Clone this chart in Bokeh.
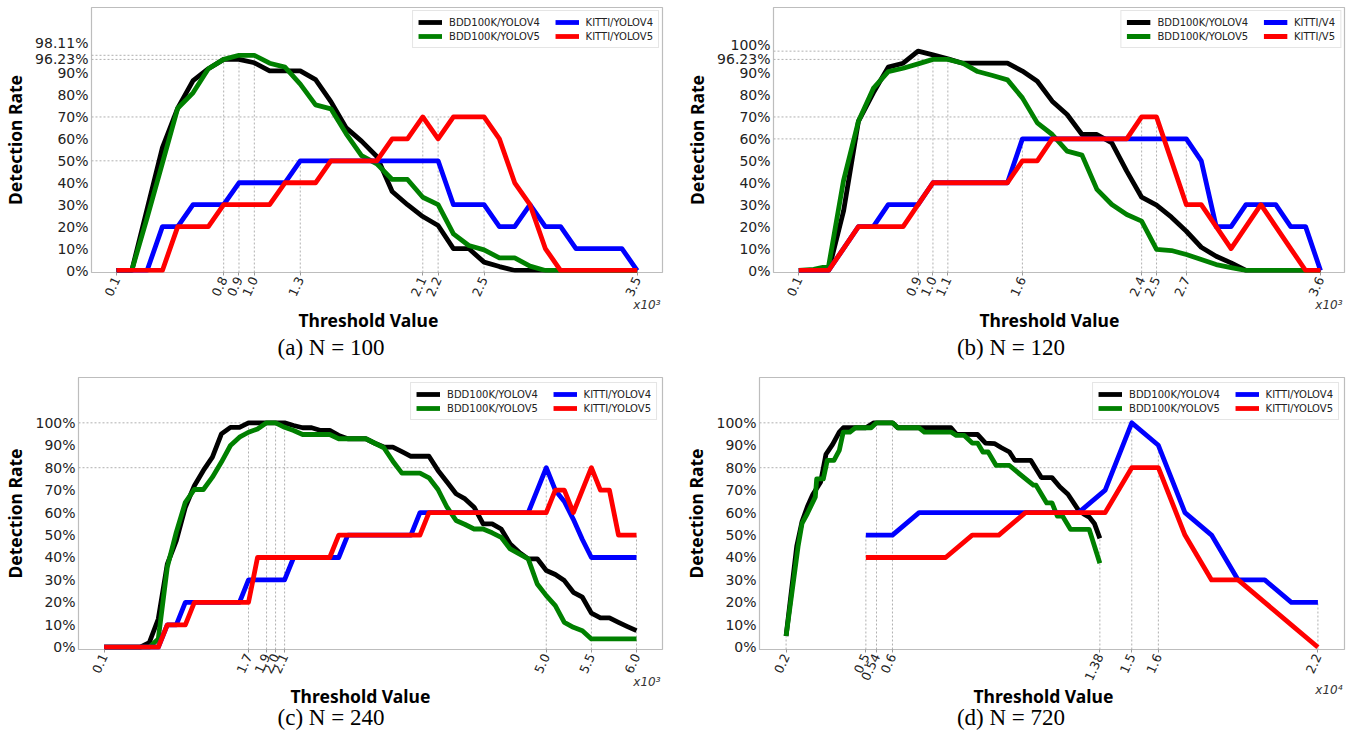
import math
from bokeh.plotting import figure
from bokeh.models import FixedTicker, Legend, LegendItem, Title, Range1d, Div
from bokeh.layouts import row, column
from bokeh.embed import file_html
from bokeh.resources import INLINE

# ---------------- data ----------------
series_names_ab = ["BDD100K/YOLOV4", "BDD100K/YOLOV5", "KITTI/YOLOV4", "KITTI/YOLOV5"]
series_names_b = ["BDD100K/YOLOV4", "BDD100K/YOLOV5", "KITTI/V4", "KITTI/V5"]
series_colors = ["#000000", "#008000", "#0000ff", "#ff0000"]

# (a) N = 100  (x in units of 10^3)
x_a = [0.1, 0.2, 0.3, 0.4, 0.5, 0.6, 0.7, 0.8, 0.9, 1.0, 1.1, 1.2, 1.3, 1.4, 1.5, 1.6, 1.7, 1.8,
       1.9, 2.0, 2.1, 2.2, 2.3, 2.4, 2.5, 2.6, 2.7, 2.8, 2.9, 3.0, 3.1, 3.2, 3.3, 3.4, 3.5]
black_a = [0, 0, 28, 56, 74, 86.6, 92, 96.23, 96.23, 94.7, 91, 91, 91, 87, 77, 65, 59, 52, 36, 30,
           24.6, 20.5, 10, 10, 3.8, 1.8, 0, 0, 0, 0, 0, 0, 0, 0, 0]
green_a = [0, 0, 24, 49, 74, 81, 92, 96.23, 98.11, 98.11, 94.5, 92.7, 85, 75.5, 73.7, 62.3, 52.4, 48.6,
           41.5, 41.5, 33.4, 30, 16.7, 11.4, 9.4, 5.8, 5.8, 2, 0, 0, 0, 0, 0, 0, 0]
blue_a = [0, 0, 0, 20, 20, 30, 30, 30, 40, 40, 40, 40, 50, 50, 50, 50, 50, 50, 50, 50,
          50, 50, 30, 30, 30, 20, 20, 30, 20, 20, 10, 10, 10, 10, 0]
red_a = [0, 0, 0, 0, 20, 20, 20, 30, 30, 30, 30, 40, 40, 40, 50, 50, 50, 50, 60, 60,
         70, 60, 70, 70, 70, 60, 40, 30, 10, 0, 0, 0, 0, 0, 0]
xticks_a = [0.1, 0.8, 0.9, 1.0, 1.3, 2.1, 2.2, 2.5, 3.5]
xlabels_a = ["0.1", "0.8", "0.9", "1.0", "1.3", "2.1", "2.2", "2.5", "3.5"]
yticks_a = [0, 10, 20, 30, 40, 50, 60, 70, 80, 90, 96.23, 103.6]
ylabels_a = ["0%", "10%", "20%", "30%", "40%", "50%", "60%", "70%", "80%", "90%", "96.23%", "98.11%"]
hguide_y_a = [98.11, 96.23, 70, 50]
hguide_x_a = [1.0, 0.9, 2.5, 2.2]
vguide_x_a = [0.8, 0.9, 1.0, 1.3, 2.1, 2.2, 2.5]
vguide_y_a = [96.23, 98.11, 98.11, 50, 70, 70, 70]

# (b) N = 120
x_b = [0.1, 0.2, 0.3, 0.4, 0.5, 0.6, 0.7, 0.8, 0.9, 1.0, 1.1, 1.2, 1.3, 1.4, 1.5, 1.6, 1.7, 1.8,
       1.9, 2.0, 2.1, 2.2, 2.3, 2.4, 2.5, 2.6, 2.7, 2.8, 2.9, 3.0, 3.1, 3.2, 3.3, 3.4, 3.5, 3.6]
black_b = [0, 0, 0, 27, 68, 81, 92.7, 94.5, 100, 98.3, 96.5, 94.5, 94.5, 94.5, 94.5, 90.9, 86.3, 77.2,
           71.1, 62, 62, 58.2, 45.3, 33.4, 29.8, 24.3, 17.9, 10.6, 6.5, 3.5, 0, 0, 0, 0, 0, 0]
green_b = [0, 0.5, 2, 41, 68, 83, 90.7, 92.2, 94.2, 96.23, 96.23, 94.5, 90.7, 88.9, 86.9, 78.7, 67.3, 62,
           54.4, 52.6, 37, 30.1, 25.5, 22.5, 9.6, 9.1, 7.3, 5, 2.7, 1.3, 0, 0, 0, 0, 0, 0]
blue_b = [0, 0, 0, 10, 20, 20, 30, 30, 30, 40, 40, 40, 40, 40, 40, 60, 60, 60,
          60, 60, 60, 60, 60, 60, 60, 60, 60, 50, 20, 20, 30, 30, 30, 20, 20, 0]
red_b = [0, 0, 0, 10, 20, 20, 20, 20, 30, 40, 40, 40, 40, 40, 40, 50, 50, 60,
         60, 60, 60, 60, 60, 70, 70, 50, 30, 30, 20, 10, 20, 30, 20, 10, 0, 0]
xticks_b = [0.1, 0.9, 1.0, 1.1, 1.6, 2.4, 2.5, 2.7, 3.6]
xlabels_b = ["0.1", "0.9", "1.0", "1.1", "1.6", "2.4", "2.5", "2.7", "3.6"]
yticks_b = [0, 10, 20, 30, 40, 50, 60, 70, 80, 90, 96.23, 103]
ylabels_b = ["0%", "10%", "20%", "30%", "40%", "50%", "60%", "70%", "80%", "90%", "96.23%", "100%"]
hguide_y_b = [100, 96.23, 70, 60]
hguide_x_b = [0.9, 1.1, 2.5, 1.6]
vguide_x_b = [0.9, 1.0, 1.1, 1.6, 2.4, 2.5, 2.7]
vguide_y_b = [100, 96.23, 96.23, 60, 70, 70, 60]

# (c) N = 240
x_c = [0.1, 0.2, 0.3, 0.4, 0.5, 0.6, 0.7, 0.8, 0.9, 1.0, 1.1, 1.2, 1.3, 1.4, 1.5, 1.6, 1.7, 1.8, 1.9, 2.0,
       2.1, 2.2, 2.3, 2.4, 2.5, 2.6, 2.7, 2.8, 2.9, 3.0, 3.1, 3.2, 3.3, 3.4, 3.5, 3.6, 3.7, 3.8, 3.9, 4.0,
       4.1, 4.2, 4.3, 4.4, 4.5, 4.6, 4.7, 4.8, 4.9, 5.0, 5.1, 5.2, 5.3, 5.4, 5.5, 5.6, 5.7, 5.8, 5.9, 6.0]
black_c = [0, 0, 0, 0, 0, 2, 12.6, 37, 47.5, 62.4, 72, 78.8, 84.7, 95.1, 98, 98, 100, 100, 100, 100,
           100, 98.8, 97.8, 97.8, 96.6, 96.6, 94.4, 92.9, 92.9, 92.9, 90.9, 89.2, 89.2, 87.2, 85.1, 85.1, 85.1, 78.8, 73.6, 68.4,
           66.1, 62.4, 55, 55, 52.7, 46, 42.3, 39.4, 39.4, 34.2, 32.4, 29.7, 24.5, 22.3, 15.2, 13.1, 13.1, 11.1, 9.2, 7.4]
green_c = [0, 0, 0, 0, 0, 0, 3.7, 35.7, 51.3, 64.6, 70.3, 70.3, 75.8, 82.5, 89.9, 93.6, 95.8, 97.3, 100, 100,
           98, 96.6, 94.8, 94.8, 94.8, 94.8, 92.9, 92.9, 92.9, 92.9, 90.9, 88.9, 82.9, 77.6, 77.6, 77.6, 75.5, 70.3, 62.4, 56.5,
           54.7, 52.7, 52.7, 51, 49, 43.8, 41.6, 39.4, 28.2, 23, 18.6, 11.1, 8.9, 7.4, 3.7, 3.7, 3.7, 3.7, 3.7, 3.7]
blue_c = [0, 0, 0, 0, 0, 0, 0, 10, 10, 20, 20, 20, 20, 20, 20, 20, 30, 30, 30, 30,
          30, 40, 40, 40, 40, 40, 40, 50, 50, 50, 50, 50, 50, 50, 50, 60, 60, 60, 60, 60,
          60, 60, 60, 60, 60, 60, 60, 60, 70, 80, 70, 65, 57, 48, 40, 40, 40, 40, 40, 40]
red_c = [0, 0, 0, 0, 0, 0, 0, 10, 10, 10, 20, 20, 20, 20, 20, 20, 20, 40, 40, 40,
         40, 40, 40, 40, 40, 40, 50, 50, 50, 50, 50, 50, 50, 50, 50, 50, 60, 60, 60, 60,
         60, 60, 60, 60, 60, 60, 60, 60, 60, 60, 70, 70, 60, 70, 80, 70, 70, 50, 50, 50]
xticks_c = [0.1, 1.7, 1.9, 2.0, 2.1, 5.0, 5.5, 6.0]
xlabels_c = ["0.1", "1.7", "1.9", "2.0", "2.1", "5.0", "5.5", "6.0"]
yticks_c = [0, 10, 20, 30, 40, 50, 60, 70, 80, 90, 100]
ylabels_c = ["0%", "10%", "20%", "30%", "40%", "50%", "60%", "70%", "80%", "90%", "100%"]
hguide_y_c = [100, 80]
hguide_x_c = [2.1, 5.5]
vguide_x_c = [1.7, 1.9, 2.0, 2.1, 5.0, 5.5, 6.0]
vguide_y_c = [100, 100, 100, 100, 80, 80, 50]

# (d) N = 720  (x in units of 10^4)
black_d_x = [0.20, 0.215, 0.24, 0.26, 0.28, 0.30, 0.33, 0.35, 0.375, 0.40, 0.415, 0.50, 0.53, 0.60, 0.62,
             0.82, 0.84, 0.92, 0.95, 0.985, 1.01, 1.04, 1.06, 1.12, 1.16, 1.20, 1.23, 1.26, 1.30, 1.32,
             1.34, 1.36, 1.38]
black_d_y = [5, 20, 45, 56, 62.6, 68, 73.7, 86, 90.4, 95.9, 97.8, 97.8, 100, 100, 97.8,
             97.8, 95, 94.8, 91, 90.7, 88.9, 87, 83.3, 83.3, 75.6, 75.6, 71.4, 68.2, 61, 59.3,
             58, 55, 48.5]
green_d_x = [0.20, 0.22, 0.245, 0.26, 0.28, 0.31, 0.315, 0.34, 0.355, 0.38, 0.40, 0.415, 0.44, 0.46, 0.52,
             0.54, 0.60, 0.62, 0.70, 0.72, 0.82, 0.84, 0.87, 0.90, 0.92, 0.94, 0.96, 0.99, 1.04, 1.08,
             1.13, 1.14, 1.18, 1.20, 1.22, 1.24, 1.27, 1.34, 1.38]
green_d_y = [5, 22.6, 44.8, 55.2, 59.6, 67, 75, 75, 83.3, 83.3, 87.7, 95.9, 95.9, 97.8, 97.8,
             100, 100, 97.8, 97.8, 95.9, 95.9, 94.4, 94.4, 91, 91, 87, 87, 81, 81, 77,
             72.2, 72.2, 64.3, 64.3, 58.4, 58.4, 52.5, 52.5, 37.4]
kitti_d_x = [0.5, 0.6, 0.7, 0.8, 0.9, 1.0, 1.1, 1.2, 1.3, 1.4, 1.5, 1.6, 1.7, 1.8, 1.9, 2.0, 2.1, 2.2]
blue_d = [50, 50, 60, 60, 60, 60, 60, 60, 60, 70, 100, 90, 60, 50, 30, 30, 20, 20]
red_d = [40, 40, 40, 40, 50, 50, 60, 60, 60, 60, 80, 80, 50, 30, 30, 20, 10, 0]
xticks_d = [0.2, 0.5, 0.54, 0.6, 1.38, 1.5, 1.6, 2.2]
xlabels_d = ["0.2", "0.5", "0.54", "0.6", "1.38", "1.5", "1.6", "2.2"]
yticks_d = [0, 10, 20, 30, 40, 50, 60, 70, 80, 90, 100]
ylabels_d = ["0%", "10%", "20%", "30%", "40%", "50%", "60%", "70%", "80%", "90%", "100%"]
hguide_y_d = [100, 80]
hguide_x_d = [1.5, 1.6]
vguide_x_d = [0.2, 0.5, 0.54, 0.6, 1.38, 1.5, 1.6, 2.2]
vguide_y_d = [5, 50, 100, 100, 48.5, 100, 90, 20]

captions = ["(a) N = 100", "(b) N = 120", "(c) N = 240", "(d) N = 720"]

# ---------------- styling ----------------
TICK_FONT = "DejaVu Sans"
LABEL_FONT = "Noto Sans"
CAP_FONT = "Liberation Serif"
NBSP = "\u00a0"


def set_standoff(t, v):
    try:
        t.standoff = v
    except Exception:
        t.standoff = 0


def build(cfg):
    p = figure(width=cfg["w"], height=cfg["h"],
               x_range=Range1d(*cfg["xr"]), y_range=Range1d(*cfg["yr"]),
               output_backend="svg", toolbar_location=None,
               min_border_left=cfg["bl"], min_border_right=cfg["br"],
               min_border_top=cfg["bt"], min_border_bottom=cfg["bb"])
    p.xgrid.visible = False
    p.ygrid.visible = False
    p.outline_line_color = "#bdbdbd"
    p.outline_line_width = 1.2
    p.background_fill_color = "white"
    p.border_fill_color = "white"

    x0 = cfg["xr"][0]
    y0 = cfg["yr"][0]
    gcol = "#b0b0b0"
    p.segment(x0=[x0] * len(cfg["hy"]), y0=cfg["hy"], x1=cfg["hx"], y1=cfg["hy"],
              line_color=gcol, line_width=1, line_dash="2 2")
    p.segment(x0=cfg["vx"], y0=[y0] * len(cfg["vx"]), x1=cfg["vx"], y1=cfg["vy"],
              line_color=gcol, line_width=1, line_dash="2 2")

    rends = []
    for (xs, ys), color in zip(cfg["series"], series_colors):
        r = p.line(xs, ys, line_color=color, line_width=4.8, line_join="round")
        rends.append(r)

    names = cfg["names"]
    items = [LegendItem(label=names[0] + NBSP * 4, renderers=[rends[0]]),
             LegendItem(label=names[1] + NBSP * 4, renderers=[rends[1]]),
             LegendItem(label=names[2], renderers=[rends[2]]),
             LegendItem(label=names[3], renderers=[rends[3]])]
    leg = Legend(items=items, location="top_right", orientation="vertical", ncols=2,
                 label_text_font=TICK_FONT, label_text_font_size="10px", label_text_color="#222222",
                 glyph_width=24, glyph_height=12, label_height=12, label_standoff=7,
                 spacing=2, padding=5, margin=cfg["lm"],
                 border_line_color="#cccccc", border_line_width=1,
                 background_fill_color="white", background_fill_alpha=0.9)
    p.add_layout(leg)

    xa = p.xaxis[0]
    xa.ticker = FixedTicker(ticks=cfg["xt"])
    xa.major_label_overrides = {t: l for t, l in zip(cfg["xt"], cfg["xl"])}
    xa.major_label_orientation = math.radians(65)
    xa.major_label_text_font = TICK_FONT
    xa.major_label_text_font_size = "12.5px"
    xa.major_label_text_color = "#222222"
    xa.major_label_standoff = 2
    xa.major_tick_out = 3
    xa.major_tick_in = 0
    xa.major_tick_line_color = "#999999"
    xa.minor_tick_out = 0
    xa.minor_tick_in = 0
    xa.axis_line_color = None

    ya = p.yaxis[0]
    ya.ticker = FixedTicker(ticks=cfg["yt"])
    ya.major_label_overrides = {t: l for t, l in zip(cfg["yt"], cfg["yl"])}
    ya.major_label_text_font = TICK_FONT
    ya.major_label_text_font_size = "14px"
    ya.major_label_text_color = "#222222"
    ya.major_label_standoff = 3
    ya.major_tick_out = 0
    ya.major_tick_in = 0
    ya.minor_tick_out = 0
    ya.minor_tick_in = 0
    ya.axis_line_color = None
    ya.axis_label = "Detection Rate"
    ya.axis_label_text_font = LABEL_FONT
    ya.axis_label_text_font_size = "17.5px"
    ya.axis_label_text_font_style = "bold"
    ya.axis_label_text_color = "#000000"
    ya.axis_label_standoff = 5

    # scale note (x10^n) under the right end of the x axis
    t_exp = Title(text=cfg["exp"], align="right", offset=2, vertical_align="top",
                  text_font=TICK_FONT, text_font_size="12px", text_font_style="italic",
                  text_color="#333333")
    set_standoff(t_exp, cfg["s1"])
    p.add_layout(t_exp, "below")

    # x axis title
    t_lab = Title(text="Threshold Value", align="left", offset=cfg["loff"], vertical_align="top",
                  text_font=LABEL_FONT, text_font_size="17.5px", text_font_style="bold",
                  text_color="#000000")
    set_standoff(t_lab, cfg["s2"])
    p.add_layout(t_lab, "below")
    return p


def caption(text, h, lh):
    html = ('<div style="width:671px;padding-right:9px;text-align:center;'
            "font-family:'Liberation Serif',serif;font-size:23px;line-height:%dpx;"
            'color:#000;margin:0;">%s</div>' % (lh, text))
    return Div(text=html, width=680, height=h, margin=0)


TOP_H = 334
BOT_H = 342

pa = build(dict(w=680, h=TOP_H, bl=90, br=18, bt=7, bb=62,
                xr=(-0.063, 3.665), yr=(-0.91, 119.9),
                series=[(x_a, black_a), (x_a, green_a), (x_a, blue_a), (x_a, red_a)],
                names=series_names_ab, xt=xticks_a, xl=xlabels_a, yt=yticks_a, yl=ylabels_a,
                hy=hguide_y_a, hx=hguide_x_a, vx=vguide_x_a, vy=vguide_y_a,
                exp="x10³", s1=-10, s2=-1, loff=207, lm=3))

pb = build(dict(w=680, h=TOP_H, bl=93, br=16, bt=7, bb=62,
                xr=(-0.0697, 3.761), yr=(-0.91, 119.9),
                series=[(x_b, black_b), (x_b, green_b), (x_b, blue_b), (x_b, red_b)],
                names=series_names_b, xt=xticks_b, xl=xlabels_b, yt=yticks_b, yl=ylabels_b,
                hy=hguide_y_b, hx=hguide_x_b, vx=vguide_x_b, vy=vguide_y_b,
                exp="x10³", s1=-10, s2=-1, loff=206, lm=3))

pc = build(dict(w=680, h=BOT_H, bl=77, br=18, bt=9, bb=61,
                xr=(-0.184, 6.288), yr=(-1.0, 120.2),
                series=[(x_c, black_c), (x_c, green_c), (x_c, blue_c), (x_c, red_c)],
                names=series_names_ab, xt=xticks_c, xl=xlabels_c, yt=yticks_c, yl=ylabels_c,
                hy=hguide_y_c, hx=hguide_x_c, vx=vguide_x_c, vy=vguide_y_c,
                exp="x10³", s1=-10, s2=-2.8, loff=212, lm=5))

pd_ = build(dict(w=680, h=BOT_H, bl=79, br=16, bt=9, bb=61,
                 xr=(0.1, 2.3), yr=(-1.0, 120.2),
                 series=[(black_d_x, black_d_y), (green_d_x, green_d_y), (kitti_d_x, blue_d), (kitti_d_x, red_d)],
                 names=series_names_ab, xt=xticks_d, xl=xlabels_d, yt=yticks_d, yl=ylabels_d,
                 hy=hguide_y_d, hx=hguide_x_d, vx=vguide_x_d, vy=vguide_y_d,
                 exp="x10⁴", s1=-6.4, s2=-24.4, loff=214, lm=5))

layout = column(row(pa, pb),
                row(caption(captions[0], 368 - TOP_H, 28), caption(captions[1], 368 - TOP_H, 28)),
                row(pc, pd_),
                row(caption(captions[2], 739 - 368 - BOT_H, 16), caption(captions[3], 739 - 368 - BOT_H, 16)))
open("out.html", "w").write(file_html(layout, INLINE))
